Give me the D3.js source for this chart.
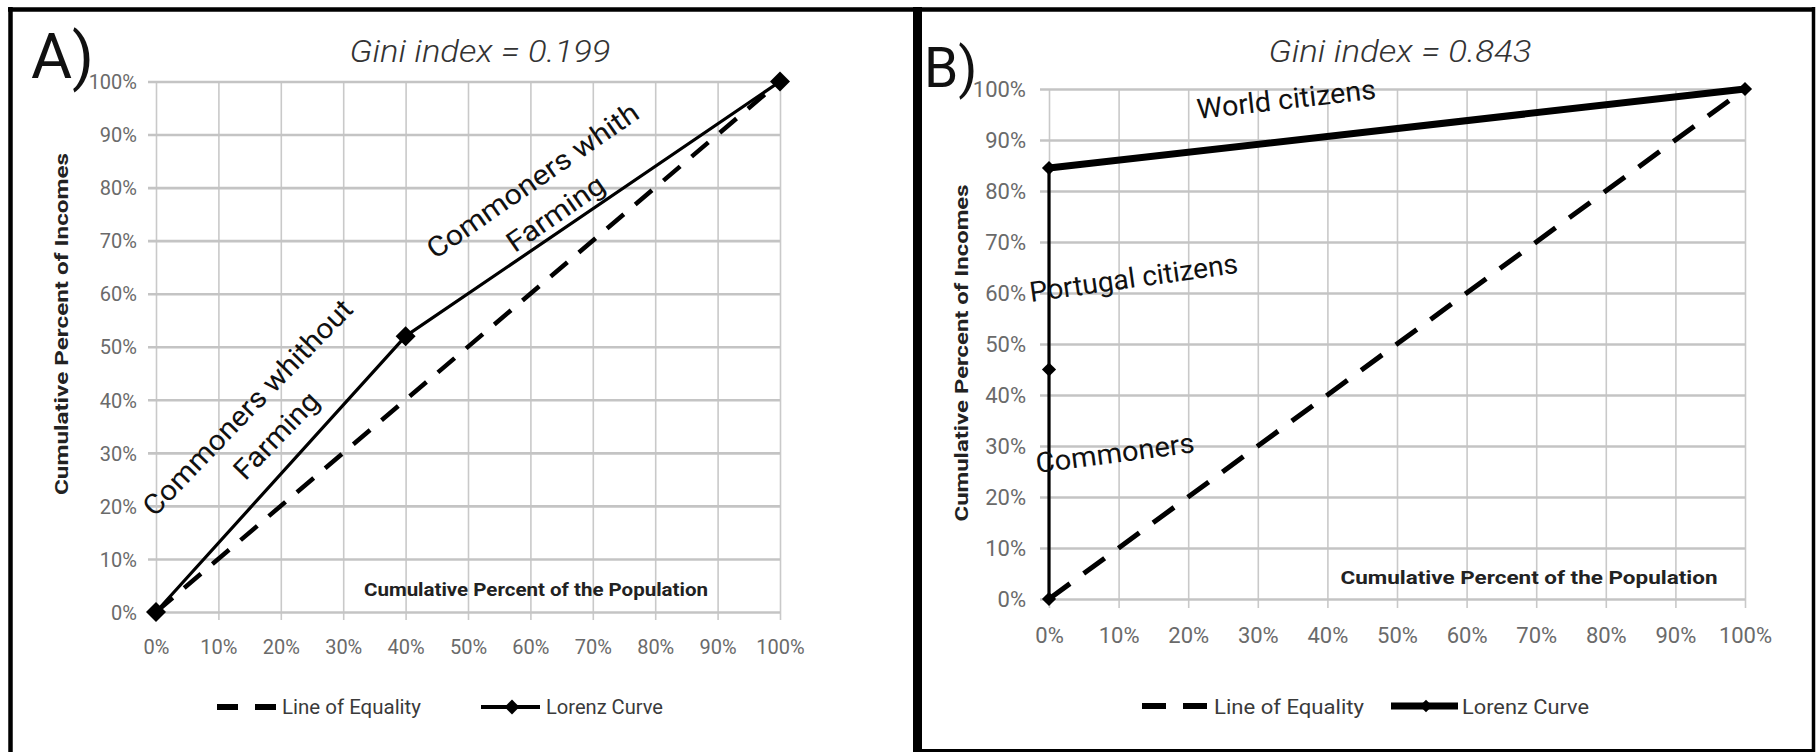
<!DOCTYPE html>
<html>
<head>
<meta charset="utf-8">
<script src="https://cdn.jsdelivr.net/npm/d3@7"></script>
<style>
  body { margin: 0; background: #fff; }
  svg { display: block; font-family: Roboto, "Open Sans", sans-serif; }
</style>
</head>
<body>
<svg id="chart"></svg>
<script>
// ---- data ----
const percentTicks = [0, 10, 20, 30, 40, 50, 60, 70, 80, 90, 100];
const equalityPop = [0, 100];
const equalityInc = [0, 100];
const lorenzPopA = [0, 40, 100];
const lorenzIncA = [0, 52, 100];
const lorenzPopB = [0, 0, 0, 100];
const lorenzIncB = [0, 45, 84.5, 100];
const giniA = 0.199;
const giniB = 0.843;
const legendLabels = ['Line of Equality', 'Lorenz Curve'];
const xTitle = 'Cumulative Percent of the Population';
const yTitle = 'Cumulative Percent of Incomes';
const notesA = [['Commoners whithout', 'Farming'], ['Commoners whith', 'Farming']];
const notesB = ['World citizens', 'Portugal citizens', 'Commoners'];

const svg = d3.select('#chart').attr('width', 1816).attr('height', 752);

class LorenzChart {
    constructor(_config, _data) {
        this.config = _config;
        this.data = _data;
        this.initVis();
        this.renderVis();
    }

    initVis() {
        let vis = this;
        const c = vis.config;

        vis.xScale = d3.scaleLinear().domain([0, 100]).range([c.x0, c.x1]);
        vis.yScale = d3.scaleLinear().domain([0, 100]).range([c.y0, c.y1]);

        vis.g = svg.append('g');

        // vertical gridlines + x tick labels
        vis.xAxis = d3.axisBottom(vis.xScale)
            .tickValues(percentTicks)
            .tickFormat(d => d + '%')
            .tickSize(-(c.y0 - c.y1));
        vis.xAxisG = vis.g.append('g')
            .attr('transform', `translate(0,${c.y0})`)
            .call(vis.xAxis)
            .call(g => g.select('.domain').remove());
        vis.xAxisG.selectAll('line')
            .attr('y1', c.tickOut)
            .attr('stroke', '#c9c9c9')
            .attr('stroke-width', 1.6);
        vis.xAxisG.selectAll('text')
            .attr('y', c.xLabelOff)
            .attr('dy', '0.36em')
            .attr('fill', '#6a6a6a')
            .attr('font-size', c.tickFont)
            .attr('font-family', 'Roboto, sans-serif');

        // horizontal gridlines + y tick labels
        vis.yAxis = d3.axisLeft(vis.yScale)
            .tickValues(percentTicks)
            .tickFormat(d => d + '%')
            .tickSize(-(c.x1 - c.x0));
        vis.yAxisG = vis.g.append('g')
            .attr('transform', `translate(${c.x0},0)`)
            .call(vis.yAxis)
            .call(g => g.select('.domain').remove());
        vis.yAxisG.selectAll('line')
            .attr('x1', -c.tickOut)
            .attr('stroke', '#c4c4c4')
            .attr('stroke-width', 2.6);
        vis.yAxisG.selectAll('text')
            .attr('x', -c.yLabelOff)
            .attr('dy', '0.36em')
            .attr('fill', '#6a6a6a')
            .attr('font-size', c.tickFont)
            .attr('font-family', 'Roboto, sans-serif');

        // axis titles
        vis.g.append('text')
            .attr('x', c.xTitle.x)
            .attr('y', c.xTitle.y)
            .attr('dy', '0.36em')
            .attr('text-anchor', 'middle')
            .attr('font-weight', 'bold')
            .attr('font-size', c.xTitle.size)
            .attr('fill', '#222')
            .attr('textLength', c.xTitle.len)
            .attr('lengthAdjust', 'spacingAndGlyphs')
            .text(xTitle);

        vis.g.append('text')
            .attr('transform', `translate(${c.yTitle.x},${c.yTitle.y}) rotate(-90)`)
            .attr('text-anchor', 'middle')
            .attr('font-weight', 'bold')
            .attr('font-size', c.yTitle.size)
            .attr('fill', '#222')
            .attr('textLength', c.yTitle.len)
            .attr('lengthAdjust', 'spacingAndGlyphs')
            .text(yTitle);

        // gini title
        vis.g.append('text')
            .attr('x', c.title.x)
            .attr('y', c.title.y)
            .attr('text-anchor', 'middle')
            .attr('font-style', 'italic')
            .attr('font-weight', 300)
            .attr('font-size', 31)
            .attr('fill', '#333')
            .attr('textLength', c.title.len)
            .attr('lengthAdjust', 'spacingAndGlyphs')
            .text(`Gini index = ${c.gini.toFixed(3)}`);

        // panel letter
        vis.g.append('text')
            .attr('x', c.letter.x)
            .attr('y', c.letter.y)
            .attr('font-weight', 400)
            .attr('font-size', c.letter.size)
            .attr('fill', '#111')
            .text(c.letter.text);
    }

    renderVis() {
        let vis = this;
        const c = vis.config;
        const d = vis.data;

        const line = d3.line()
            .x(p => vis.xScale(p[0]))
            .y(p => vis.yScale(p[1]));

        // line of equality
        vis.g.append('path')
            .datum(d3.zip(d.eqX, d.eqY))
            .attr('d', line)
            .attr('fill', 'none')
            .attr('stroke', '#000')
            .attr('stroke-width', c.dashWidth)
            .attr('stroke-dasharray', c.dash);

        // lorenz curve, segment by segment
        const pts = d3.zip(d.lzX, d.lzY);
        vis.g.selectAll('.seg')
            .data(d3.pairs(pts))
            .join('path')
            .attr('class', 'seg')
            .attr('d', line)
            .attr('fill', 'none')
            .attr('stroke', '#000')
            .attr('stroke-linecap', 'round')
            .attr('stroke-width', s => s[0][0] === s[1][0] ? c.vertWidth : c.lorenzWidth);

        const marker = d3.symbol().type(d3.symbolSquare).size(c.markerSize);
        vis.g.selectAll('.mk')
            .data(pts)
            .join('path')
            .attr('class', 'mk')
            .attr('d', marker)
            .attr('transform', p => `translate(${vis.xScale(p[0])},${vis.yScale(p[1])}) rotate(45)`)
            .attr('fill', '#000');

        // legend
        const L = c.legend;
        vis.g.append('line')
            .attr('x1', L.dashX[0]).attr('x2', L.dashX[1])
            .attr('y1', L.y).attr('y2', L.y)
            .attr('stroke', '#000')
            .attr('stroke-width', L.dashWidth)
            .attr('stroke-dasharray', L.dash);
        vis.g.append('line')
            .attr('x1', L.lzX[0]).attr('x2', L.lzX[1])
            .attr('y1', L.y).attr('y2', L.y)
            .attr('stroke', '#000')
            .attr('stroke-width', L.lzWidth);
        vis.g.append('path')
            .attr('d', d3.symbol().type(d3.symbolSquare).size(L.markerSize))
            .attr('transform', `translate(${L.markX},${L.y}) rotate(45)`)
            .attr('fill', '#000');
        legendLabels.forEach((t, i) => {
            vis.g.append('text')
                .attr('x', L.textX[i])
                .attr('y', L.y)
                .attr('dy', '0.36em')
                .attr('font-size', L.size)
                .attr('fill', '#3a3a3a')
                .attr('textLength', L.textLen[i])
                .attr('lengthAdjust', 'spacingAndGlyphs')
                .text(t);
        });

        // annotations
        c.notes.forEach(n => {
            const g = vis.g.append('g')
                .attr('transform', `translate(${n.x},${n.y}) rotate(${-n.angle})`);
            const inner = g.append('g');
            n.lines.forEach((t, i) => {
                inner.append('text')
                    .attr('y', n.baseY + i * 40)
                    .attr('text-anchor', n.anchor)
                    .attr('font-size', 28)
                    .attr('fill', '#111')
                    .text(t);
            });
            const w = inner.select('text').node().getComputedTextLength();
            inner.attr('transform', `scale(${n.len / w},1)`);
        });
    }
}

new LorenzChart({
    x0: 156, x1: 780, y0: 612, y1: 81.5,
    tickOut: 8, xLabelOff: 35, yLabelOff: 19, tickFont: 20,
    xTitle: {x: 536, y: 590, size: 18, len: 344},
    yTitle: {x: 68, y: 324, size: 18, len: 342},
    title: {x: 480, y: 62, len: 261},
    gini: giniA,
    letter: {x: 31, y: 78, size: 63, text: 'A)'},
    dash: '22,15', dashWidth: 4.5, lorenzWidth: 3.2, vertWidth: 3.2, markerSize: 200,
    legend: {y: 707, dashX: [217, 276], dash: '21,17', dashWidth: 6,
             lzX: [481, 540], lzWidth: 4, markX: 512, markerSize: 110,
             textX: [282, 546], textLen: [139, 117], size: 20},
    notes: [
        {x: 248, y: 408, angle: 46, lines: notesA[0], len: 288, anchor: 'middle', baseY: 9},
        {x: 533, y: 181, angle: 34.7, lines: notesA[1], len: 251, anchor: 'middle', baseY: 9}
    ]
}, {eqX: equalityPop, eqY: equalityInc, lzX: lorenzPopA, lzY: lorenzIncA});

new LorenzChart({
    x0: 1049, x1: 1745, y0: 599, y1: 89,
    tickOut: 9, xLabelOff: 36, yLabelOff: 23, tickFont: 22,
    xTitle: {x: 1529, y: 577, size: 19, len: 377},
    yTitle: {x: 968, y: 353, size: 18, len: 337},
    title: {x: 1400, y: 62, len: 263},
    gini: giniB,
    letter: {x: 924, y: 87, size: 55, text: 'B)'},
    dash: '26,17', dashWidth: 5, lorenzWidth: 7, vertWidth: 3.2, markerSize: 100,
    legend: {y: 706, dashX: [1142, 1207], dash: '24,17', dashWidth: 6,
             lzX: [1391, 1458], lzWidth: 7, markX: 1426, markerSize: 80,
             textX: [1214, 1462], textLen: [150, 127], size: 21},
    notes: [
        {x: 1198, y: 119, angle: 6.5, lines: [notesB[0]], len: 180, anchor: 'start', baseY: 0},
        {x: 1031, y: 302, angle: 8, lines: [notesB[1]], len: 210, anchor: 'start', baseY: 0},
        {x: 1037, y: 473, angle: 7.5, lines: [notesB[2]], len: 160, anchor: 'start', baseY: 0}
    ]
}, {eqX: equalityPop, eqY: equalityInc, lzX: lorenzPopB, lzY: lorenzIncB});

// panel frames
const frame = svg.append('g').attr('stroke', '#000').attr('fill', 'none');
frame.append('line').attr('x1', 8).attr('x2', 1815).attr('y1', 9.5).attr('y2', 9.5).attr('stroke-width', 4.5);
frame.append('line').attr('x1', 10.5).attr('x2', 10.5).attr('y1', 7).attr('y2', 752).attr('stroke-width', 4.5);
frame.append('line').attr('x1', 917.5).attr('x2', 917.5).attr('y1', 7).attr('y2', 752).attr('stroke-width', 9);
frame.append('line').attr('x1', 1813.5).attr('x2', 1813.5).attr('y1', 7).attr('y2', 752).attr('stroke-width', 3.5);
frame.append('line').attr('x1', 917).attr('x2', 1815).attr('y1', 750.5).attr('y2', 750.5).attr('stroke-width', 3);
</script>
</body>
</html>
